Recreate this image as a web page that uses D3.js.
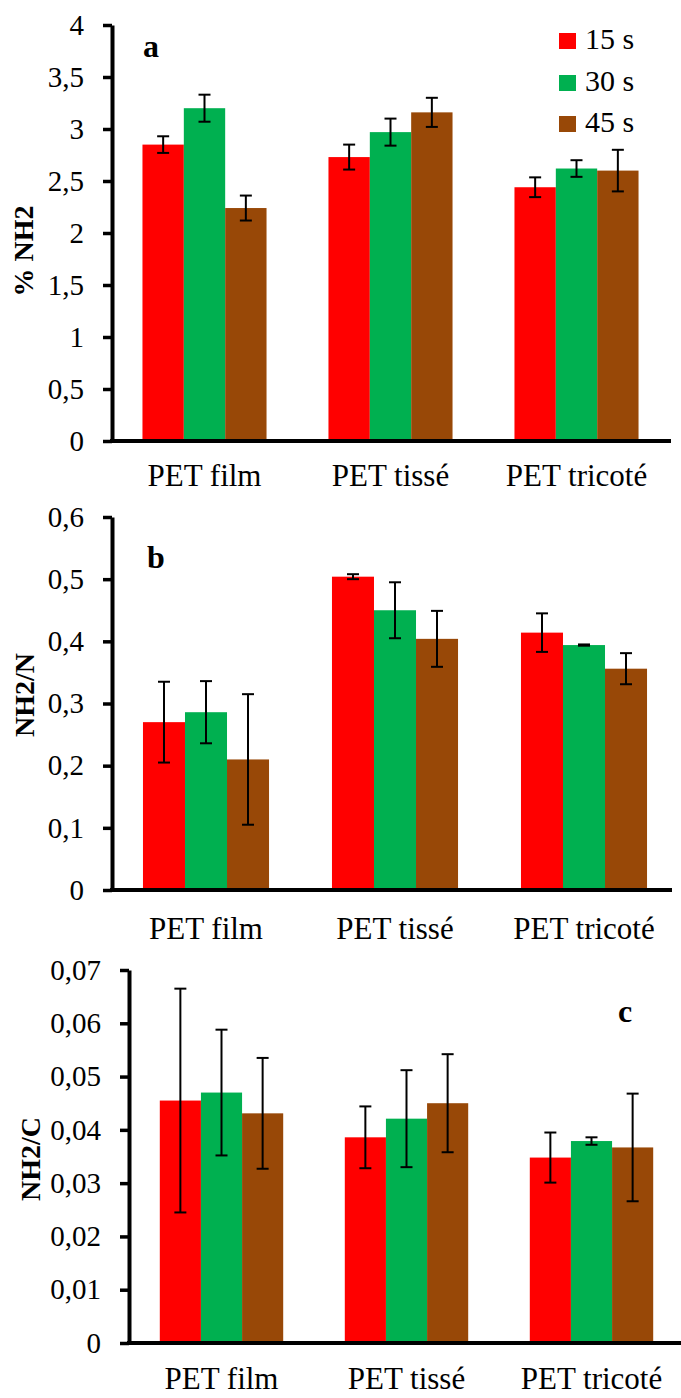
<!DOCTYPE html>
<html><head><meta charset="utf-8">
<script src="https://cdn.jsdelivr.net/npm/d3@7"></script>
<style>
body{margin:0;background:#fff}
svg{display:block;background:#fff}
svg text{font-family:"Liberation Serif","Times New Roman",Times,"DejaVu Serif",serif !important;fill:#000}
</style>
</head><body>
<svg id="chart" width="681" height="1398"></svg>
<script>
// ---- data ----
const categories = ["PET film", "PET tissé", "PET tricoté"];
const seriesNames = ["15 s", "30 s", "45 s"];
const seriesColors = ["#FF0000", "#00B050", "#984807"];

// panel a: % NH2 (rows = series 15 s, 30 s, 45 s; columns = categories)
const pctNH2 = [[2.85, 2.73, 2.44], [3.20, 2.97, 2.62], [2.24, 3.16, 2.60]];
const pctNH2Err = [[0.08, 0.12, 0.095], [0.13, 0.13, 0.08], [0.12, 0.14, 0.20]];
const ticksA = [0, 0.5, 1, 1.5, 2, 2.5, 3, 3.5, 4];

// panel b: NH2/N
const ratioNH2N = [[0.27, 0.504, 0.414], [0.286, 0.450, 0.394], [0.21, 0.404, 0.356]];
const ratioNH2NErr = [[0.065, 0.004, 0.031], [0.05, 0.045, 0.001], [0.105, 0.045, 0.025]];
const ticksB = [0, 0.1, 0.2, 0.3, 0.4, 0.5, 0.6];

// panel c: NH2/C
const ratioNH2C = [[0.0455, 0.0386, 0.0348], [0.0470, 0.0421, 0.0379], [0.0431, 0.0450, 0.0367]];
const ratioNH2CErr = [[0.021, 0.0058, 0.0047], [0.0118, 0.0091, 0.0007], [0.0104, 0.0092, 0.0101]];
const ticksC = [0, 0.01, 0.02, 0.03, 0.04, 0.05, 0.06, 0.07];

// ---- layout ----
const FONT = '"Liberation Serif","Times New Roman",Times,"DejaVu Serif",serif';
const panels = [
  {values: pctNH2, errors: pctNH2Err, ticks: ticksA, title: "% NH2", letter: "a",
   top: 25, bottom: 441, x0: 111.5, x1: 669.5, axisX: 112, axisEnd: 671,
   catY: 486, titleX: 33, titleY: 251, letterX: 143, letterY: 57},
  {values: ratioNH2N, errors: ratioNH2NErr, ticks: ticksB, title: "NH2/N", letter: "b",
   top: 517, bottom: 890, x0: 111.5, x1: 678.5, axisX: 112, axisEnd: 672,
   catY: 939, titleX: 34, titleY: 695, letterX: 147, letterY: 568},
  {values: ratioNH2C, errors: ratioNH2CErr, ticks: ticksC, title: "NH2/C", letter: "c",
   top: 970, bottom: 1343, x0: 129, x1: 684, axisX: 129, axisEnd: 681,
   catY: 1389, titleX: 40, titleY: 1159, letterX: 618, letterY: 1022}
];

const svg = d3.select("#chart");
const fmt = v => String(+v.toFixed(4)).replace(".", ",");

panels.forEach(p => {
  const y = d3.scaleLinear().domain([p.ticks[0], p.ticks[p.ticks.length - 1]]).range([p.bottom, p.top]);
  const x = d3.scaleBand().domain(categories).range([p.x0, p.x1]).paddingInner(0.333).paddingOuter(0.1665);
  const xs = d3.scaleBand().domain(seriesNames).range([0, x.bandwidth()]).padding(0);
  const g = svg.append("g");

  // bars
  seriesNames.forEach((s, si) => {
    g.selectAll(null).data(categories).enter().append("rect")
      .attr("x", c => x(c) + xs(s))
      .attr("width", xs.bandwidth())
      .attr("y", (c, ci) => y(p.values[si][ci]))
      .attr("height", (c, ci) => y(0) - y(p.values[si][ci]))
      .attr("fill", seriesColors[si]);
  });
  // error bars
  seriesNames.forEach((s, si) => {
    categories.forEach((c, ci) => {
      const cx = x(c) + xs(s) + xs.bandwidth() / 2;
      const v = p.values[si][ci], e = p.errors[si][ci];
      const eg = g.append("g").attr("stroke", "#000").attr("stroke-width", 2);
      eg.append("line").attr("x1", cx).attr("x2", cx).attr("y1", y(v + e)).attr("y2", y(v - e));
      eg.append("line").attr("x1", cx - 6).attr("x2", cx + 6).attr("y1", y(v + e)).attr("y2", y(v + e));
      eg.append("line").attr("x1", cx - 6).attr("x2", cx + 6).attr("y1", y(v - e)).attr("y2", y(v - e));
    });
  });

  // y axis
  const ax = g.append("g").attr("transform", `translate(${p.axisX},0)`)
    .call(d3.axisLeft(y).tickValues(p.ticks).tickFormat(fmt).tickSize(9).tickSizeOuter(0).tickPadding(19));
  ax.attr("font-family", FONT);
  ax.select(".domain").attr("stroke", "#000").attr("stroke-width", 4);
  ax.selectAll(".tick line").attr("stroke", "#000").attr("stroke-width", 3.5);
  ax.selectAll(".tick text").attr("font-size", 29).style("font-family", FONT).attr("fill", "#000");

  // x axis line
  g.append("line").attr("x1", p.axisX - 2).attr("x2", p.axisEnd).attr("y1", y(0)).attr("y2", y(0))
    .attr("stroke", "#000").attr("stroke-width", 4);

  // category labels
  g.selectAll(null).data(categories).enter().append("text")
    .attr("x", c => x(c) + x.bandwidth() / 2).attr("y", p.catY)
    .attr("text-anchor", "middle").attr("font-size", 31).style("font-family", FONT).text(c => c);

  // y title
  g.append("text").attr("transform", `translate(${p.titleX},${p.titleY}) rotate(-90)`)
    .attr("text-anchor", "middle").attr("font-size", 28).attr("font-weight", "bold").style("font-family", FONT).text(p.title);

  // panel letter
  g.append("text").attr("x", p.letterX).attr("y", p.letterY)
    .attr("font-size", 32).attr("font-weight", "bold").style("font-family", FONT).text(p.letter);
});

// legend (panel a)
const lg = svg.append("g");
seriesNames.forEach((s, i) => {
  const ty = [49, 91, 132][i];
  lg.append("rect").attr("x", 559).attr("y", ty - 16).attr("width", 17).attr("height", 16).attr("fill", seriesColors[i]);
  lg.append("text").attr("x", 585).attr("y", ty).attr("font-size", 30).style("font-family", FONT).text(s);
});
</script>
</body></html>
